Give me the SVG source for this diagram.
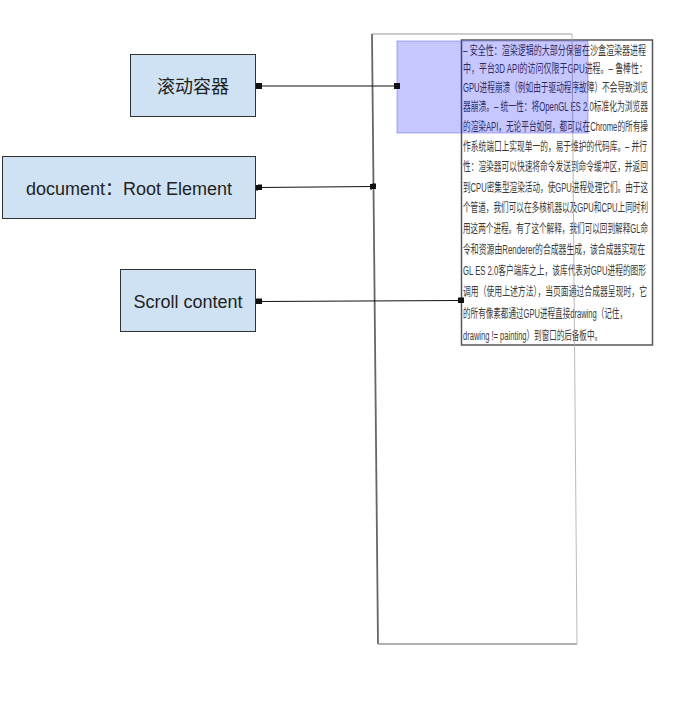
<svg xmlns="http://www.w3.org/2000/svg" width="687" height="719" viewBox="0 0 687 719">
<defs>
<style>
.box{fill:#cfe2f3;stroke:#333;stroke-width:1}
.lbl{font-family:"Liberation Sans","Noto Sans CJK SC",sans-serif;font-size:18px;fill:#222;text-anchor:middle}
.conn{stroke:#111;stroke-width:1;fill:none;marker-start:url(#sq);marker-end:url(#sq)}
.body{font-family:"Liberation Sans","Noto Sans CJK SC",sans-serif;font-size:12.5px;fill:#3a3a3a}
</style>
<marker id="sq" viewBox="0 0 6 6" refX="3" refY="3" markerWidth="6" markerHeight="6" markerUnits="userSpaceOnUse" orient="auto">
<rect x="0" y="0" width="6" height="6" fill="#111"/>
</marker>
</defs>
<rect width="687" height="719" fill="#fff"/>

<g id="root-frame">
<line x1="372" y1="34" x2="572" y2="34" stroke="#bbb" stroke-width="1.5"/>
<line x1="372" y1="34" x2="378" y2="644" stroke="#666" stroke-width="1.8"/>
<line x1="378" y1="644" x2="577" y2="644" stroke="#999" stroke-width="1.5"/>
</g>

<g id="scroll-content-box">
<rect x="461.5" y="40" width="191" height="305" fill="#fff" stroke="#555" stroke-width="1.5"/>
<g class="body">
<text x="463" y="55" textLength="183" lengthAdjust="spacingAndGlyphs">– 安全性：渲染逻辑的大部分保留在沙盒渲染器进程</text>
<text x="463" y="73" textLength="184" lengthAdjust="spacingAndGlyphs">中，平台3D API的访问仅限于GPU进程。– 鲁棒性：</text>
<text x="463" y="92" textLength="185" lengthAdjust="spacingAndGlyphs">GPU进程崩溃（例如由于驱动程序故障）不会导致浏览</text>
<text x="463" y="111" textLength="185" lengthAdjust="spacingAndGlyphs">器崩溃。– 统一性：将OpenGL ES 2.0标准化为浏览器</text>
<text x="463" y="131" textLength="185" lengthAdjust="spacingAndGlyphs">的渲染API，无论平台如何，都可以在Chrome的所有操</text>
<text x="463" y="151" textLength="184" lengthAdjust="spacingAndGlyphs">作系统端口上实现单一的，易于维护的代码库。– 并行</text>
<text x="463" y="171" textLength="185" lengthAdjust="spacingAndGlyphs">性：渲染器可以快速将命令发送到命令缓冲区，并返回</text>
<text x="463" y="192" textLength="185" lengthAdjust="spacingAndGlyphs">到CPU密集型渲染活动，使GPU进程处理它们。由于这</text>
<text x="463" y="212" textLength="185" lengthAdjust="spacingAndGlyphs">个管道，我们可以在多核机器以及GPU和CPU上同时利</text>
<text x="463" y="233" textLength="185" lengthAdjust="spacingAndGlyphs">用这两个进程。有了这个解释，我们可以回到解释GL命</text>
<text x="463" y="254" textLength="182" lengthAdjust="spacingAndGlyphs">令和资源由Renderer的合成器生成，该合成器实现在</text>
<text x="463" y="275" textLength="183" lengthAdjust="spacingAndGlyphs">GL ES 2.0客户端库之上，该库代表对GPU进程的图形</text>
<text x="463" y="296" textLength="184" lengthAdjust="spacingAndGlyphs">调用（使用上述方法），当页面通过合成器呈现时，它</text>
<text x="463" y="318" textLength="164" lengthAdjust="spacingAndGlyphs">的所有像素都通过GPU进程直接drawing（记住，</text>
<text x="463" y="340" textLength="139" lengthAdjust="spacingAndGlyphs">drawing != painting）到窗口的后备板中。</text>
</g>
</g>

<line x1="572" y1="34" x2="577" y2="644" stroke="#aaa" stroke-width="1" opacity="0.8"/>

<g id="scroll-container-rect">
<rect x="397" y="41" width="191" height="92" fill="#0000ff" fill-opacity="0.22" stroke="#5050e0" stroke-opacity="0.45" stroke-width="1"/>
</g>

<g id="node-scroll-container">
<rect class="box" x="130.5" y="54.5" width="125" height="62"/>
<text class="lbl" x="193" y="93">滚动容器</text>
</g>

<g id="node-root-element">
<rect class="box" x="2.5" y="156.5" width="253" height="62"/>
<text class="lbl" x="129" y="194.5">document：Root Element</text>
</g>

<g id="node-scroll-content">
<rect class="box" x="120.5" y="269.5" width="135" height="62"/>
<text class="lbl" x="188" y="308">Scroll content</text>
</g>

<g id="connectors">
<path class="conn" d="M259,86 L397,86"/>
<path class="conn" d="M259,187.5 L373,186.5"/>
<path class="conn" d="M259,301.5 L461,300.5"/>
</g>
</svg>
